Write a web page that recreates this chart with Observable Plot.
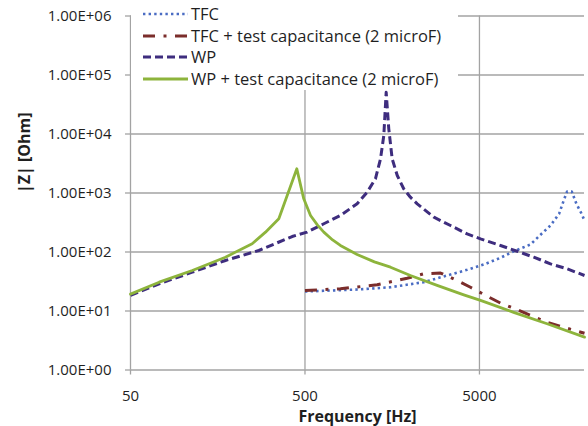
<!DOCTYPE html>
<html><head><meta charset="utf-8">
<script src="https://cdn.jsdelivr.net/npm/d3@7"></script>
<script src="https://cdn.jsdelivr.net/npm/@observablehq/plot@0.6"></script>
<style>
body{margin:0;background:#fff;}
#wrap{position:relative;width:588px;height:426px;overflow:hidden;background:#fff;}
#legend{position:absolute;left:131px;top:0;width:327px;height:90px;background:#fff;font-family:'Open Sans',sans-serif;font-size:16.5px;color:#1f1f1f;}
.row{position:absolute;left:0;height:22px;width:327px;}
.row svg{position:absolute;left:12px;top:0;}
.row span{position:absolute;left:60px;top:0;line-height:22px;white-space:nowrap;}
</style>
</head><body>
<div id="wrap"><div id="legend"></div></div>
<script>
// ---- data ----
const seriesNames = ["TFC", "TFC + test capacitance (2 microF)", "WP", "WP + test capacitance (2 microF)"];
const xTitle = "Frequency [Hz]";
const yTitle = "|Z| [Ohm]";

const freqTFC = [500, 641, 995, 1546, 2398, 3265, 4250, 5300, 6600, 7870, 9800, 11070, 12760, 14300, 15200, 15900, 16900, 17970, 19250, 20000];
const zTFC    = [21.4, 22.0, 23.1, 25.3, 30.8, 40, 49.9, 61.4, 79.8, 103, 134, 190, 281, 444, 746, 1060, 1060, 656, 444, 342];

const freqTFCC = [500, 798, 1296, 1925, 2398, 2990, 3725, 4440, 5530, 6740, 8220, 10030, 12210, 15200, 20000];
const zTFCC    = [22.3, 23.8, 27.8, 36, 42.7, 44, 32.9, 25.3, 17.8, 13.2, 10.6, 8.2, 6.45, 5.3, 4.2];

const freqWP = [50, 73, 113, 175, 272, 422, 514, 641, 798, 995, 1135, 1267, 1355, 1415, 1460, 1511, 1580, 1690, 1840, 2010, 2200, 2740, 3410, 4250, 5070, 6600, 8220, 10240, 12760, 15900, 20000];
const zWP    = [18.5, 28.9, 45.5, 71.8, 106, 183, 217, 301, 416, 656, 1030, 1740, 3800, 9430, 51000, 12250, 3800, 1980, 1180, 849, 656, 389, 281, 203, 167, 129, 103, 81.7, 63, 51.9, 40];

const freqWPC = [50, 73, 113, 175, 249, 297, 354, 449, 492, 538, 590, 641, 720, 798, 995, 1250, 1546, 2010, 2860, 4065, 5070, 7850, 12210, 20000];
const zWPC    = [19.3, 30.8, 48.6, 81.7, 138, 217, 365, 2570, 797, 416, 285, 217, 160, 129, 90.7, 68, 55.3, 40, 27.2, 18.8, 15.1, 9.5, 6.07, 3.6];

const xTicks = [50, 500, 5000];
const xTickLabels = ["50", "500", "5000"];
const yTicks = [1, 10, 100, 1000, 10000, 100000, 1000000];
const yTickLabels = ["1.00E+00", "1.00E+01", "1.00E+02", "1.00E+03", "1.00E+04", "1.00E+05", "1.00E+06"];

// ---- styles ----
const styles = [
  {stroke: "#4a6cc3", strokeWidth: 2.6, strokeDasharray: "2.4 3.2", strokeLinecap: "butt"},
  {stroke: "#7b2d2b", strokeWidth: 3, strokeDasharray: "12 8.5 3 8.5", strokeLinecap: "butt"},
  {stroke: "#3e2d7e", strokeWidth: 3, strokeDasharray: "8 4", strokeLinecap: "butt"},
  {stroke: "#8db43c", strokeWidth: 2.8}
];

const toRows = (fs, zs) => fs.map((f, i) => ({f, z: zs[i]}));
const tables = [toRows(freqTFC, zTFC), toRows(freqTFCC, zTFCC), toRows(freqWP, zWP), toRows(freqWPC, zWPC)];

const gridColor = "#a3a3a3";
const textColor = "#1f1f1f";

const chart = Plot.plot({
  width: 588,
  height: 426,
  marginLeft: 130,
  marginRight: 4,
  marginTop: 15.5,
  marginBottom: 56.5,
  style: {fontFamily: "'Open Sans', sans-serif", fontSize: "15px", color: textColor, background: "#fff"},
  x: {type: "log", domain: [50, 20000], axis: null},
  y: {type: "log", domain: [1, 1000000]},
  marks: [
    Plot.gridX(xTicks, {stroke: gridColor, strokeOpacity: 1, strokeWidth: 1.3}),
    Plot.gridY(yTicks, {stroke: gridColor, strokeOpacity: 1, strokeWidth: 1.3}),
    Plot.axisY(yTicks, {
      tickSize: 5, tickPadding: 14, stroke: gridColor, strokeWidth: 1.3,
      tickFormat: d => yTickLabels[yTicks.indexOf(d)],
      label: null
    }),
    Plot.tickX(xTicks, {x: d => d, frameAnchor: "bottom", y: null, stroke: gridColor, strokeWidth: 1.3}),
    Plot.text(xTicks, {x: d => d, frameAnchor: "bottom", lineAnchor: "top", dy: 20, text: (d, i) => xTickLabels[i], fill: textColor, fontSize: 15}),
    Plot.text([xTitle], {frameAnchor: "bottom", lineAnchor: "middle", dy: 46.5, fontWeight: "bold", fontSize: 16, fill: textColor}),
    Plot.text([yTitle], {frameAnchor: "left", lineAnchor: "middle", dx: -106, rotate: -90, fontWeight: "bold", fontSize: 16, fill: textColor}),
    ...tables.map((t, i) => Plot.line(t, {x: "f", y: "z", ...styles[i], strokeLinejoin: "round"}))
  ]
});

// short tick marks below the x axis (tickX spans the frame; shorten to 5px below)
chart.querySelectorAll('[aria-label="tick"] line').forEach(l => {
  const y2 = +l.getAttribute("y2");
  const y1 = +l.getAttribute("y1");
  const bottom = Math.max(y1, y2);
  l.setAttribute("y1", bottom);
  l.setAttribute("y2", bottom + 5);
});

const wrap = document.getElementById("wrap");
wrap.insertBefore(chart, wrap.firstChild);

// legend
const legend = document.getElementById("legend");
const rowCenters = [13.5, 35.5, 57, 79];
seriesNames.forEach((name, i) => {
  const row = document.createElement("div");
  row.className = "row";
  row.style.top = (rowCenters[i] - 11) + "px";
  const s = styles[i];
  row.innerHTML = `<svg width="45" height="22"><line x1="0" x2="45" y1="11" y2="11" stroke="${s.stroke}" stroke-width="${s.strokeWidth}" ${s.strokeDasharray ? `stroke-dasharray="${s.strokeDasharray}"` : ""} stroke-linecap="butt"/></svg><span>${name}</span>`;
  legend.appendChild(row);
});
</script>
</body></html>
